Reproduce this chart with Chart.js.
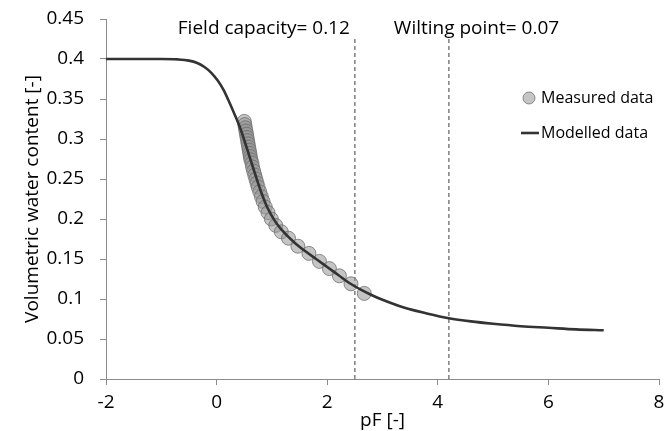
<!DOCTYPE html>
<html>
<head>
<meta charset="utf-8">
<script src="https://cdn.jsdelivr.net/npm/chart.js@4.4.1/dist/chart.umd.min.js"></script>
<style>
  html, body { margin: 0; padding: 0; background: #ffffff; }
  #wrap { width: 667px; height: 431px; position: relative; }
</style>
</head>
<body>
<div id="wrap"><canvas id="c" width="667" height="431"></canvas></div>
<script>
// ---- data ----
const seriesNames = ['Measured data', 'Modelled data'];
const xTitle = 'pF [-]';
const yTitle = 'Volumetric water content [-]';

const measuredPF = [0.50, 0.51, 0.52, 0.53, 0.54, 0.55, 0.56, 0.57, 0.58, 0.59, 0.60, 0.61, 0.62, 0.64, 0.65, 0.67, 0.69, 0.71, 0.73, 0.75, 0.78, 0.81, 0.84, 0.88, 0.93, 0.99, 1.07, 1.17, 1.30, 1.47, 1.67, 1.86, 2.04, 2.22, 2.43, 2.67];
const measuredTheta = [0.322, 0.318, 0.314, 0.310, 0.306, 0.302, 0.298, 0.294, 0.290, 0.286, 0.282, 0.278, 0.274, 0.270, 0.265, 0.260, 0.255, 0.250, 0.245, 0.240, 0.234, 0.228, 0.222, 0.215, 0.208, 0.200, 0.192, 0.184, 0.176, 0.166, 0.157, 0.147, 0.138, 0.129, 0.119, 0.107];

const modelPF = [-2.0, -1.5, -1.0, -0.7, -0.5, -0.35, -0.22, -0.1, 0.02, 0.12, 0.21, 0.33, 0.42, 0.48, 0.54, 0.60, 0.67, 0.74, 0.82, 0.92, 1.05, 1.17, 1.40, 1.60, 1.80, 2.00, 2.20, 2.40, 2.60, 2.80, 3.00, 3.40, 3.80, 4.20, 4.60, 5.00, 5.50, 6.00, 6.50, 7.00];
const modelTheta = [0.400, 0.400, 0.400, 0.3995, 0.398, 0.395, 0.390, 0.383, 0.373, 0.362, 0.349, 0.330, 0.315, 0.303, 0.290, 0.277, 0.262, 0.247, 0.231, 0.214, 0.198, 0.187, 0.171, 0.160, 0.150, 0.140, 0.130, 0.120, 0.112, 0.105, 0.099, 0.089, 0.082, 0.076, 0.072, 0.069, 0.066, 0.064, 0.062, 0.061];

const markerPF = [2.5, 4.2];            // field capacity, wilting point
const markerTop = 0.425;                 // upper end of the dashed lines
const markerLabels = ['Field capacity= 0.12', 'Wilting point= 0.07'];

const xMin = -2, xMax = 8, xStep = 2;
const yMin = 0, yMax = 0.45, yStep = 0.05;

// ---- build chart ----
const FONT = "'Open Sans', 'DejaVu Sans', sans-serif";
const pts = (xs, ys) => xs.map((x, i) => ({ x: x, y: ys[i] }));

const markerDatasets = markerPF.map((p, i) => ({
  type: 'line',
  label: markerLabels[i],
  data: [{ x: p, y: 0 }, { x: p, y: markerTop }],
  borderColor: '#7f7f7f',
  borderWidth: 1.5,
  borderDash: [4, 3],
  pointRadius: 0,
  fill: false,
  order: 2
}));

const overlay = {
  id: 'overlay',
  afterDraw(chart) {
    const ctx = chart.ctx;
    const xs = chart.scales.x, area = chart.chartArea;
    ctx.save();
    ctx.fillStyle = '#000';
    ctx.textBaseline = 'middle';
    ctx.font = '19px ' + FONT;
    // annotation labels near dashed lines
    const fx = xs.getPixelForValue(markerPF[0]);
    ctx.textAlign = 'right';
    ctx.fillText(markerLabels[0], fx - 5, 29);
    const wx = xs.getPixelForValue(markerPF[1]);
    ctx.textAlign = 'left';
    ctx.fillText(markerLabels[1], wx - 55, 29);

    // legend inside plot area
    const ds0 = chart.data.datasets[1];
    const ds1 = chart.data.datasets[0];
    const lx = area.right - 130;
    ctx.font = '16px ' + FONT;
    ctx.textAlign = 'left';
    ctx.beginPath();
    ctx.arc(lx, 98, 6, 0, Math.PI * 2);
    ctx.fillStyle = ds0.backgroundColor;
    ctx.fill();
    ctx.lineWidth = 1;
    ctx.strokeStyle = ds0.borderColor;
    ctx.stroke();
    ctx.fillStyle = '#000';
    ctx.fillText(seriesNames[0], lx + 12, 98);

    ctx.beginPath();
    ctx.moveTo(lx - 8, 133);
    ctx.lineTo(lx + 10, 133);
    ctx.strokeStyle = ds1.borderColor;
    ctx.lineWidth = ds1.borderWidth;
    ctx.stroke();
    ctx.fillText(seriesNames[1], lx + 12, 133);
    ctx.restore();
  }
};

new Chart(document.getElementById('c'), {
  type: 'scatter',
  data: {
    datasets: [
      {
        type: 'line',
        label: seriesNames[1],
        data: pts(modelPF, modelTheta),
        borderColor: '#333333',
        borderWidth: 2.6,
        pointRadius: 0,
        cubicInterpolationMode: 'monotone',
        fill: false,
        order: 0
      },
      {
        type: 'scatter',
        label: seriesNames[0],
        data: pts(measuredPF, measuredTheta),
        backgroundColor: 'rgba(150,150,150,0.55)',
        borderColor: 'rgba(105,105,105,0.75)',
        borderWidth: 1,
        pointRadius: 7,
        order: 1
      },
      ...markerDatasets
    ]
  },
  options: {
    responsive: false,
    animation: false,
    layout: { padding: { top: 19, right: 7, bottom: 0, left: 0 } },
    plugins: { legend: { display: false }, tooltip: { enabled: false } },
    scales: {
      x: {
        type: 'linear',
        min: xMin, max: xMax,
        ticks: { stepSize: xStep, color: '#000', font: { family: FONT, size: 19 }, padding: 6, maxRotation: 0 },
        grid: { drawOnChartArea: false, drawTicks: true, tickLength: 6, tickColor: '#8c8c8c' },
        border: { display: true, color: '#8c8c8c', width: 1 },
        title: { display: true, text: xTitle, color: '#000', font: { family: FONT, size: 19 }, padding: { top: 0, bottom: -1 } },
        afterFit(s) { s.height = 52; s.paddingRight = 0; s.paddingLeft = 0; }
      },
      y: {
        type: 'linear',
        min: yMin, max: yMax,
        ticks: { stepSize: yStep, color: '#000', font: { family: FONT, size: 19 }, padding: 16,
                 callback: v => String(+v.toFixed(2)) },
        grid: { drawOnChartArea: false, drawTicks: true, tickLength: 6, tickColor: '#8c8c8c' },
        border: { display: true, color: '#8c8c8c', width: 1 },
        title: { display: true, text: yTitle, color: '#000', font: { family: FONT, size: 19 }, padding: { top: 21, bottom: 0 } },
        afterFit(s) { s.width = 106; s.paddingTop = 0; s.paddingBottom = 0; }
      }
    }
  },
  plugins: [overlay]
});
</script>
</body>
</html>
